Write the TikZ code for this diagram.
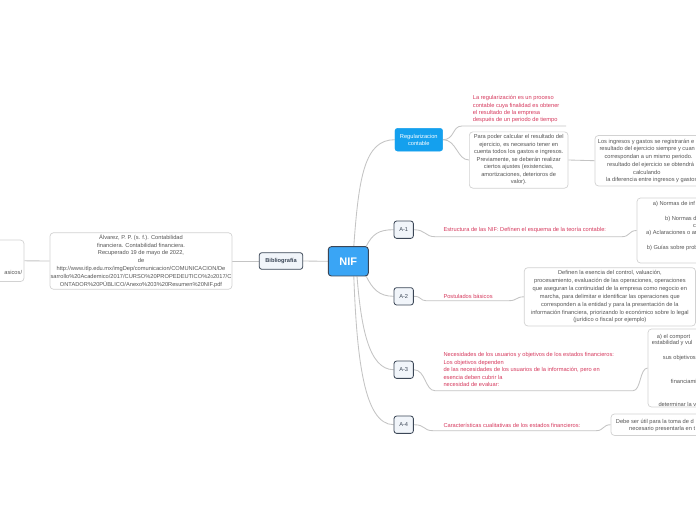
\documentclass[tikz,border=0pt]{standalone}
\usepackage{fontspec}
\setmainfont{Liberation Sans}
\usetikzlibrary{backgrounds}
\definecolor{lin}{HTML}{C4C4C4}
\definecolor{bord}{HTML}{D2D2D2}
\definecolor{txt}{HTML}{555555}
\definecolor{redt}{HTML}{D63A5E}
\definecolor{nifblue}{HTML}{3AA5F5}
\definecolor{regblue}{HTML}{14A0EE}
\definecolor{dark}{HTML}{3B4656}
\definecolor{afill}{HTML}{F1F5FA}
\tikzset{
  fs/.style={font=\fontsize{5.7}{7.7}\selectfont},
  box/.style={draw=bord, line width=0.7pt, rounded corners=3.5pt, fill=white, inner sep=0pt, fs, text=txt, align=center},
  redtxt/.style={fs, text=redt, align=left, inner sep=0pt, anchor=west},
  ln/.style={fs, text=txt, inner sep=0pt, anchor=west},
  anode/.style={draw=dark, line width=0.8pt, fill=afill, rounded corners=2.5pt, minimum width=19.3pt, minimum height=17.3pt, inner sep=0pt, fs, text=dark},
  conn/.style={draw=lin, line width=0.85pt},
}
\begin{document}
\begin{tikzpicture}[x=1pt,y=-1pt]
\useasboundingbox (0,0) rectangle (696,520);

% central and left branch
\node[draw=dark, line width=0.9pt, fill=nifblue, rounded corners=3pt, minimum width=40pt, minimum height=29.3pt, inner sep=0pt, text=white, font=\fontsize{11}{13}\selectfont\bfseries] (NIF) at (348.3,261.3) {NIF};
\node[anode, font=\fontsize{5.7}{7}\selectfont\bfseries, minimum width=43.4pt, minimum height=16.6pt] (bibl) at (281,261) {Bibliografía};
\node[box, font=\fontsize{5.7}{7.9}\selectfont, minimum width=182pt, minimum height=56.5pt] (bib) at (141,261) {Álvarez, P. P. (s. f.). Contabilidad\\financiera. Contabilidad financiera.\\Recuperado 19 de mayo de 2022,\\de\\http://www.itlp.edu.mx/imgDep/comunicacion/COMUNICACION/De\\sarrollo\%20Academico/2017/CURSO\%20PROPEDEUTICO\%2{\fontsize{4.5}{5}\selectfont 0}2017/C\\ONTADOR\%20PÚBLICO/Anexo\%203\%20Resumen\%20NIF.pdf};
\node[box, minimum width=44pt, minimum height=41.5pt] (L) at (2,260.8) {};
\node[ln, anchor=east] (Ltxt) at (22.3,272) {asicos/};

% Regularizacion
\node[fill=regblue, draw=regblue, rounded corners=2.5pt, minimum width=47.7pt, minimum height=22.7pt, inner sep=0pt, text=white, align=center, font=\fontsize{5.7}{6.9}\selectfont] (reg) at (418.8,139.7) {Regularizacion\\contable};
\node[redtxt, font=\fontsize{5.7}{7.3}\selectfont] (t1) at (472.7,109.3) {La regularización es un proceso\\contable cuya finalidad es obtener\\el resultado de la empresa\\después de un periodo de tiempo};
\coordinate (u1a) at (462,126);
\coordinate (u1b) at (566,126);
\node[box, font=\fontsize{5.7}{7.5}\selectfont, minimum width=98.7pt, minimum height=56.3pt] (p1) at (518.7,160) {Para poder calcular el resultado del\\ejercicio, es necesario tener en\\cuenta todos los gastos e ingresos.\\Previamente, se deberán realizar\\ciertos ajustes (existencias,\\amortizaciones, deterioros de\\valor).};
\node[box, minimum width=125pt, minimum height=50.5pt] (li) at (657.5,160.7) {};
\node[ln] (li1) at (597.7,141.7) {Los ingresos y gastos se registrarán e};
\node[ln] (li2) at (599.3,149.2) {resultado del ejercicio siempre y cuan};
\node[ln] (li3) at (604.3,157) {correspondan a un mismo periodo.};
\node[ln] (li4) at (607,164.8) {resultado del ejercicio se obtendrá};
\node[ln] (li5) at (633,172.6) {calculando};
\node[ln] (li6) at (606,180.2) {la diferencia entre ingresos y gastos};

% A nodes
\node[anode] (A1) at (403.7,229.7) {A-1};
\node[anode] (A2) at (403.7,296.3) {A-2};
\node[anode] (A3) at (403.7,369.7) {A-3};
\node[anode] (A4) at (403.7,424.7) {A-4};

% A-1
\node[redtxt] (t2) at (443.3,230) {Estructura de las NIF: Defínen el esquema de la teoría contable:};
\coordinate (u2a) at (435,236.7);
\coordinate (u2b) at (622,236.7);
\node[box, minimum width=83pt, minimum height=65pt] (b1) at (678.5,230.5) {};
\node[ln] (b1a) at (652.7,204) {a) Normas de inf};
\node[ln] (b1b) at (665,219) {b) Normas d};
\node[ln] (b1c) at (693,226) {c};
\node[ln] (b1d) at (646,233) {a) Aclaraciones o ar};
\node[ln] (b1e) at (646.7,247.7) {b) Guías sobre probl};

% A-2
\node[redtxt] (t3) at (443.3,296) {Postulados básicos};
\coordinate (u3a) at (426,300.7);
\coordinate (u3b) at (509,300.7);
\node[box, font=\fontsize{5.7}{7.85}\selectfont, minimum width=171.2pt, minimum height=58.3pt] (b2) at (609.9,296.8) {Definen la esencia del control, valuación,\\procesamiento, evaluación de las operaciones, operaciones\\que aseguran la continuidad de la empresa como negocio en\\marcha, para delimitar e identificar las operaciones que\\corresponden a la entidad y para la presentación de la\\información financiera, priorizando lo económico sobre lo legal\\(jurídico o fiscal por ejemplo)};

% A-3
\node[redtxt, font=\fontsize{5.7}{7.5}\selectfont] (t4) at (443.3,369.8) {Necesidades de los usuarios y objetivos de los estados financieros:\\Los objetivos dependen\\de las necesidades de los usuarios de la información, pero en\\esencia deben cubrir la\\necesidad de evaluar:};
\coordinate (u4a) at (435,390.7);
\coordinate (u4b) at (633,390.7);
\node[box, minimum width=72pt, minimum height=78pt] (b3) at (684,368) {};
\node[ln] (b3a) at (656.7,337) {a) el comport};
\node[ln] (b3b) at (651.7,343.5) {estabilidad y vul};
\node[ln] (b3c) at (662.7,358.5) {sus objetivos};
\node[ln] (b3d) at (670.7,381.7) {financiami};
\node[ln] (b3e) at (658.3,404) {determinar la v};

% A-4
\node[redtxt] (t5) at (443.3,425) {Características cualitativas de los estados financieros:};
\coordinate (u5a) at (433,430.7);
\coordinate (u5b) at (596,430.7);
\node[box, minimum width=109pt, minimum height=21.5pt] (b4) at (665.5,424.7) {};
\node[ln] (b4a) at (615.7,421.7) {Debe ser útil para la toma de d};
\node[ln] (b4b) at (629,429.2) {necesario presentarla en t};

\begin{scope}[on background layer]
\fill[white] (0,0) rectangle (696,520);
\draw[conn] (NIF.west) -- (bibl.east);
\draw[conn] (bibl.west) -- (bib.east);
\draw[conn] (bib.west) -- (L.east);
\draw[conn] (NIF.70) .. controls +(5,-70) and +(-30,0) .. (reg.west);
\draw[conn] (NIF.40) .. controls +(6,-12) and +(-15,0) .. (A1.west);
\draw[conn] (NIF.-40) .. controls +(6,12) and +(-15,0) .. (A2.west);
\draw[conn] (NIF.-60) .. controls +(4,50) and +(-25,0) .. (A3.west);
\draw[conn] (NIF.-70) .. controls +(3,80) and +(-30,0) .. (A4.west);
\draw[conn] (reg.east) .. controls +(12,0) and +(-10,0) .. (u1a) -- (u1b);
\draw[conn] (reg.east) .. controls +(14,0) and +(-12,0) .. (p1.west);
\draw[conn] (p1.east) -- (li.west);
\draw[conn] (A1.east) .. controls +(12,0) and +(-10,0) .. (u2a) -- (u2b) .. controls +(8,0) and +(-8,0) .. (b1.west);
\draw[conn] (A2.east) .. controls +(8,0) and +(-6,0) .. (u3a) -- (u3b) .. controls +(8,0) and +(-8,0) .. (b2.west);
\draw[conn] (A3.east) .. controls +(12,0) and +(-10,0) .. (u4a) -- (u4b) .. controls +(8,0) and +(-8,0) .. (b3.west);
\draw[conn] (A4.east) .. controls +(12,0) and +(-10,0) .. (u5a) -- (u5b) .. controls +(8,0) and +(-8,0) .. (b4.west);
\end{scope}
\end{tikzpicture}
\end{document}
